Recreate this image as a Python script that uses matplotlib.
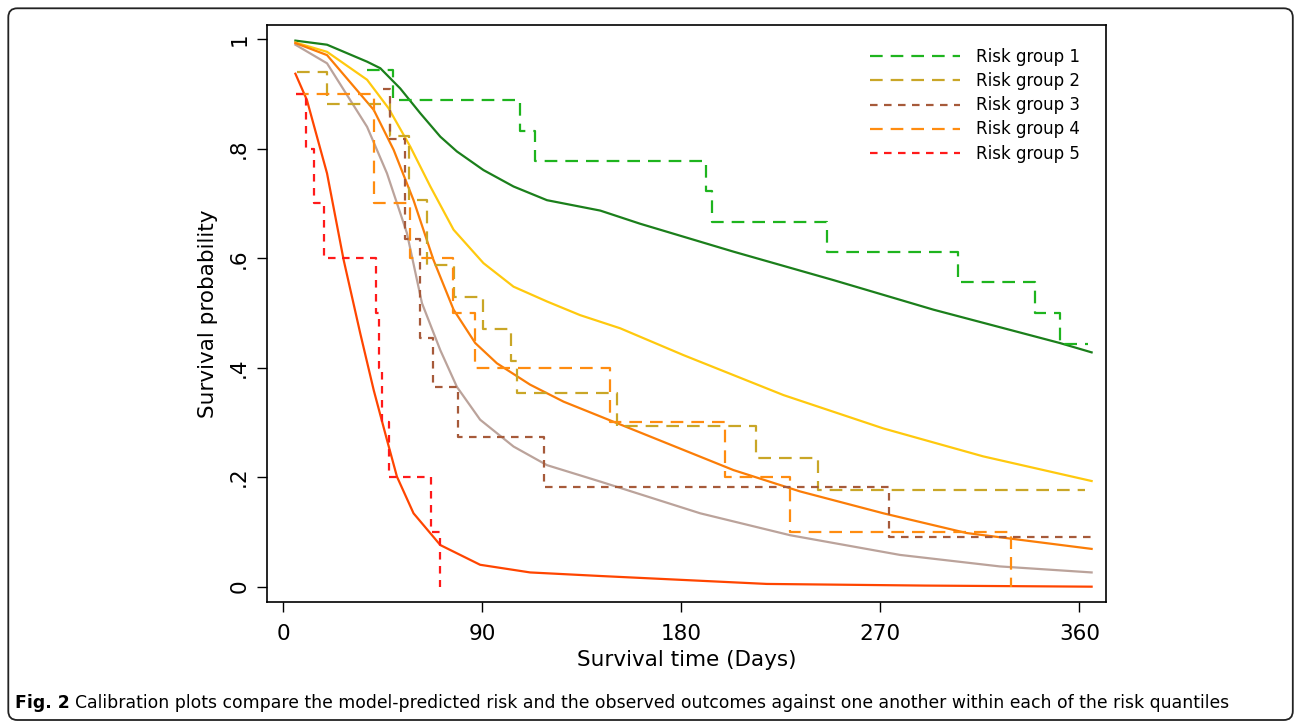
"""Calibration plot: observed KM steps vs model-predicted survival per risk group."""

import numpy as np
import matplotlib

matplotlib.use("Agg")
import matplotlib.pyplot as plt
from matplotlib.patches import FancyBboxPatch

plt.rcParams["font.family"] = ["DejaVu Sans"]

# ---- observed (Kaplan-Meier) step curves ----
km1_t = [38, 49.7, 107.2, 113.7, 191.3, 194, 246, 305, 340, 351.3, 364]
km1_s = [0.944, 0.889, 0.833, 0.778, 0.722, 0.667, 0.611, 0.556, 0.5, 0.444, 0.444]

km2_t = [6.4, 19.9, 48.5, 56.8, 65, 77.1, 90.6, 103.2, 105.7, 150.9, 213.8, 242, 362.5]
km2_s = [0.941, 0.882, 0.824, 0.706, 0.588, 0.529, 0.471, 0.412, 0.353, 0.294, 0.235, 0.176, 0.176]

km3_t = [45.2, 48.2, 55, 62, 67.6, 79, 118, 274, 365]
km3_s = [0.909, 0.818, 0.636, 0.455, 0.364, 0.273, 0.182, 0.091, 0.091]

km4_t = [6, 41, 57.5, 77, 86.9, 147.9, 199.8, 229.2, 328.9]
km4_s = [0.9, 0.7, 0.6, 0.5, 0.4, 0.3, 0.2, 0.1, 0.0]

km5_t = [6, 10.5, 13.8, 18.7, 42, 43.5, 44.7, 47.7, 66.9, 71.1]
km5_s = [0.9, 0.8, 0.7, 0.6, 0.5, 0.4, 0.3, 0.2, 0.1, 0.0]

# ---- model-predicted survival curves ----
pr1_t = [5.6, 19.9, 38, 44, 53, 62, 71.1, 78.6, 90.6, 104.2, 119.3, 143.4, 161.4, 203.6, 248.8, 294, 351.2, 365.5]
pr1_s = [0.9975, 0.99, 0.959, 0.947, 0.910, 0.865, 0.822, 0.795, 0.761, 0.731, 0.706, 0.687, 0.663, 0.612, 0.560, 0.506, 0.445, 0.428]

pr2_t = [5.6, 19.9, 38, 47.7, 57.5, 66.6, 77.1, 90.6, 104.2, 119.3, 134.3, 152.4, 181, 226.2, 271.4, 316.5, 365.5]
pr2_s = [0.994, 0.977, 0.926, 0.874, 0.804, 0.731, 0.652, 0.591, 0.548, 0.521, 0.496, 0.472, 0.423, 0.350, 0.289, 0.238, 0.193]

pr3_t = [5.6, 19.9, 38, 47, 56, 62.8, 71.1, 78.6, 89.1, 104.2, 119.3, 143.4, 188.6, 229.2, 278.9, 324, 365.5]
pr3_s = [0.99, 0.956, 0.840, 0.755, 0.646, 0.518, 0.432, 0.365, 0.305, 0.256, 0.222, 0.192, 0.134, 0.094, 0.058, 0.037, 0.026]

pr4_t = [5.6, 19.9, 33.4, 41, 50, 59, 68, 77.1, 86.9, 96.7, 111.7, 126.8, 143.4, 173.5, 203.6, 233.7, 271.4, 309, 365.5]
pr4_s = [0.993, 0.971, 0.907, 0.871, 0.798, 0.706, 0.597, 0.506, 0.445, 0.408, 0.369, 0.338, 0.311, 0.262, 0.213, 0.174, 0.134, 0.098, 0.069]

pr5_t = [5.6, 10.8, 19.9, 27.4, 34.9, 41, 47, 51.5, 59, 71.1, 89.1, 111.7, 143.4, 218.7, 290, 365.5]
pr5_s = [0.937, 0.889, 0.755, 0.597, 0.463, 0.359, 0.268, 0.201, 0.134, 0.076, 0.040, 0.026, 0.0195, 0.005, 0.002, 0.0]

LABELS = ["Risk group 1", "Risk group 2", "Risk group 3", "Risk group 4", "Risk group 5"]
KM_COLORS = ["#1eb41e", "#c9a627", "#a65a3a", "#ff8c10", "#ff1a1a"]
PR_COLORS = ["#1b7f1b", "#ffc90e", "#bba39b", "#fb7d07", "#ff4500"]
LW = 1.6
LONG, SHORT = (5.7, 3.6), (3.4, 2.9)
DASHES = [LONG, LONG, SHORT, LONG, SHORT]

km = [(km1_t, km1_s), (km2_t, km2_s), (km3_t, km3_s), (km4_t, km4_s), (km5_t, km5_s)]
pr = [(pr1_t, pr1_s), (pr2_t, pr2_s), (pr3_t, pr3_s), (pr4_t, pr4_s), (pr5_t, pr5_s)]

W, H = 1295, 722
fig = plt.figure(figsize=(W / 100, H / 100), dpi=100)
ax = fig.add_axes([267.3 / W, 1 - 602 / H, (1106 - 267.3) / W, (602 - 25) / H])

for (t, s), c in zip(pr, PR_COLORS):
    ax.plot(t, s, color=c, lw=LW, zorder=2, solid_joinstyle="round")
handles = []
for (t, s), c, d, lab in zip(km, KM_COLORS, DASHES, LABELS):
    (h,) = ax.step(t, s, where="post", color=c, lw=LW, dashes=d, label=lab, zorder=3)
    handles.append(h)

ax.set_xlim(-7.1, 372)
ax.set_ylim(-0.028, 1.026)
ax.set_xticks([0, 90, 180, 270, 360])
ax.set_yticks([0, 0.2, 0.4, 0.6, 0.8, 1.0])
ax.set_yticklabels(["0", ".2", ".4", ".6", ".8", "1"])
ax.tick_params(direction="out", length=7, width=1, labelsize=15.5)
ax.tick_params(axis="x", pad=9)
ax.tick_params(axis="y", pad=6, labelrotation=90)
for lbl in ax.get_yticklabels():
    lbl.set_va("center")
for sp in ax.spines.values():
    sp.set_linewidth(1.2)

ax.set_xlabel("Survival time (Days)", fontsize=15.5, labelpad=4)
ax.set_ylabel("Survival probability", fontsize=15.5, labelpad=8)

ax.legend(
    handles=handles,
    loc="upper left",
    bbox_to_anchor=(870 / W, 1 - 48 / H),
    bbox_transform=fig.transFigure,
    frameon=False,
    fontsize=12,
    handlelength=5.4,
    handletextpad=0.95,
    labelspacing=0.37,
    borderpad=0,
    borderaxespad=0,
)

# rounded outer frame
frame = FancyBboxPatch(
    (8.3, 2), 1284.5, 711.7,
    boxstyle="round,pad=0,rounding_size=9",
    transform=None, fill=False, edgecolor="#222222", lw=1.3,
)
fig.add_artist(frame)

# caption: bold "Fig. 2" followed by regular text
cap_y = 1 - 703 / H
t1 = fig.text(15 / W, cap_y, "Fig. 2", fontsize=12.4, fontweight="bold", va="center")
fig.canvas.draw()
bb = t1.get_window_extent()
fig.text(
    (bb.x1 + 5) / W,
    cap_y,
    "Calibration plots compare the model-predicted risk and the observed outcomes "
    "against one another within each of the risk quantiles",
    fontsize=12.4,
    va="center",
)

fig.savefig("out.png", dpi=100)
